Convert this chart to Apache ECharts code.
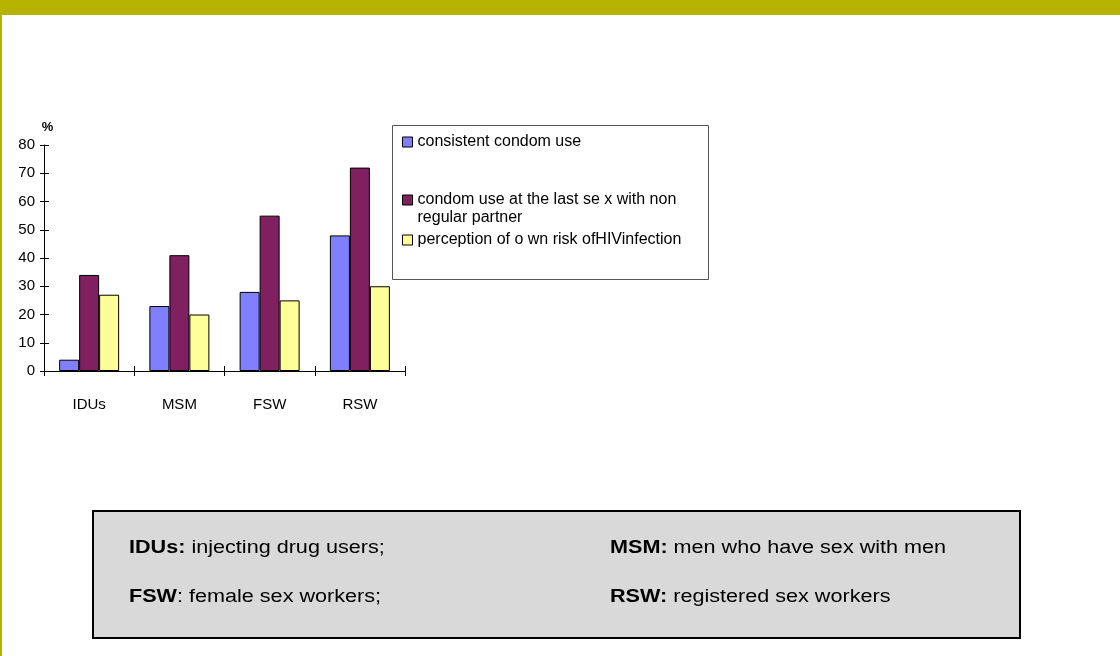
<!DOCTYPE html>
<html>
<head>
<meta charset="utf-8">
<script src="https://cdn.jsdelivr.net/npm/echarts@6/dist/echarts.min.js"></script>
<style>
  html, body { margin: 0; padding: 0; background: #fff; }
  #chart { width: 1120px; height: 656px; }
</style>
</head>
<body>
<div id="chart"></div>
<script>
const categories = ['IDUs', 'MSM', 'FSW', 'RSW']
const seriesNames = [
  'consistent condom use',
  'condom use at the last se x with non\nregular partner',
  'perception of o wn risk ofHIVinfection'
]
const consistentUse = [4, 23, 28, 48]
const lastSexUse = [34, 41, 55, 72]
const riskPerception = [27, 20, 25, 30]
const yTicks = { min: 0, max: 80, interval: 10 }
const notes = [
  ['IDUs:', ' injecting drug users;'],
  ['MSM:', ' men who have sex with men'],
  ['FSW', ': female sex workers;'],
  ['RSW:', ' registered sex workers']
]

const COLORS = ['#8080FF', '#802060', '#FFFF99']
const FONT = 'Liberation Sans, Arial, sans-serif'

const chart = echarts.init(document.getElementById('chart'))

function legendAt (name, top, formatter) {
  return {
    orient: 'vertical',
    left: 402,
    top: top,
    padding: 0,
    itemWidth: 10,
    itemHeight: 10,
    icon: 'rect',
    selectedMode: false,
    formatter: formatter,
    itemStyle: { borderColor: '#000', borderWidth: 1 },
    textStyle: { fontFamily: FONT, fontSize: 16, color: '#000', lineHeight: 18 },
    data: [name]
  }
}

function barSeries (name, data, color) {
  return {
    name: name,
    type: 'bar',
    barWidth: 20,
    barGap: 0,
    itemStyle: { color: color, borderColor: '#000', borderWidth: 1 },
    data: data
  }
}

// footnote box texts (the source slide stretches them sideways)
const noteTexts = notes.map((n, i) => ({
  type: 'text',
  x: i % 2 === 0 ? 129 : 610,
  y: i < 2 ? 548 : 597,
  scaleX: 1.2,
  style: {
    text: '{b|' + n[0] + '}{r|' + n[1] + '}',
    verticalAlign: 'middle',
    rich: {
      b: { fontFamily: FONT, fontSize: 18, fontWeight: 'bold', fill: '#000' },
      r: { fontFamily: FONT, fontSize: 18, fill: '#000' }
    }
  }
}))

chart.setOption({
  animation: false,
  color: COLORS,
  textStyle: { fontFamily: FONT },
  grid: { left: 44, top: 145, width: 361, height: 226, containLabel: false },
  legend: [
    legendAt(seriesNames[0], 133),
    // leading blank line keeps the icon level with the first text line
    legendAt(seriesNames[1], 173, name => '\n' + name),
    legendAt(seriesNames[2], 231)
  ],
  xAxis: [
    {
      type: 'category',
      data: categories,
      axisLine: { lineStyle: { color: '#000', width: 1 } },
      axisTick: { show: true, length: 5, lineStyle: { color: '#000' } },
      axisLabel: { color: '#000', fontSize: 15, margin: 26 }
    },
    {
      // inner half of the crossing ticks
      type: 'category',
      position: 'bottom',
      data: categories,
      axisLine: { show: false },
      axisTick: { show: true, inside: true, length: 5, lineStyle: { color: '#000' } },
      axisLabel: { show: false }
    }
  ],
  yAxis: [
    {
      type: 'value',
      min: yTicks.min,
      max: yTicks.max,
      interval: yTicks.interval,
      name: '%',
      nameLocation: 'end',
      nameGap: 11,
      nameTextStyle: { color: '#000', fontSize: 13, fontWeight: 'bold', padding: [0, 0, 0, 7] },
      axisLine: { show: true, lineStyle: { color: '#000', width: 1 } },
      axisTick: { show: true, length: 4, lineStyle: { color: '#000' } },
      axisLabel: { color: '#000', fontSize: 15, margin: 9 },
      splitLine: { show: false }
    },
    {
      type: 'value',
      position: 'left',
      min: yTicks.min,
      max: yTicks.max,
      interval: yTicks.interval,
      axisLine: { show: false },
      axisTick: { show: true, inside: true, length: 5, lineStyle: { color: '#000' } },
      axisLabel: { show: false },
      splitLine: { show: false }
    }
  ],
  graphic: [
    { type: 'rect', shape: { x: 0, y: 0, width: 1120, height: 15 }, style: { fill: '#B5B200' } },
    { type: 'rect', shape: { x: 0, y: 0, width: 2, height: 656 }, style: { fill: '#B5B200' } },
    { type: 'rect', z: -1, shape: { x: 392.5, y: 125.5, width: 316, height: 154 }, style: { fill: '#fff', stroke: '#555', lineWidth: 1 } },
    { type: 'rect', shape: { x: 94, y: 512, width: 927, height: 127 }, style: { fill: '#8C8C8C' } },
    { type: 'rect', shape: { x: 93, y: 511, width: 927, height: 127 }, style: { fill: '#D9D9D9', stroke: '#000', lineWidth: 2 } }
  ].concat(noteTexts),
  series: [
    barSeries(seriesNames[0], consistentUse, COLORS[0]),
    barSeries(seriesNames[1], lastSexUse, COLORS[1]),
    barSeries(seriesNames[2], riskPerception, COLORS[2])
  ]
})
</script>
</body>
</html>
